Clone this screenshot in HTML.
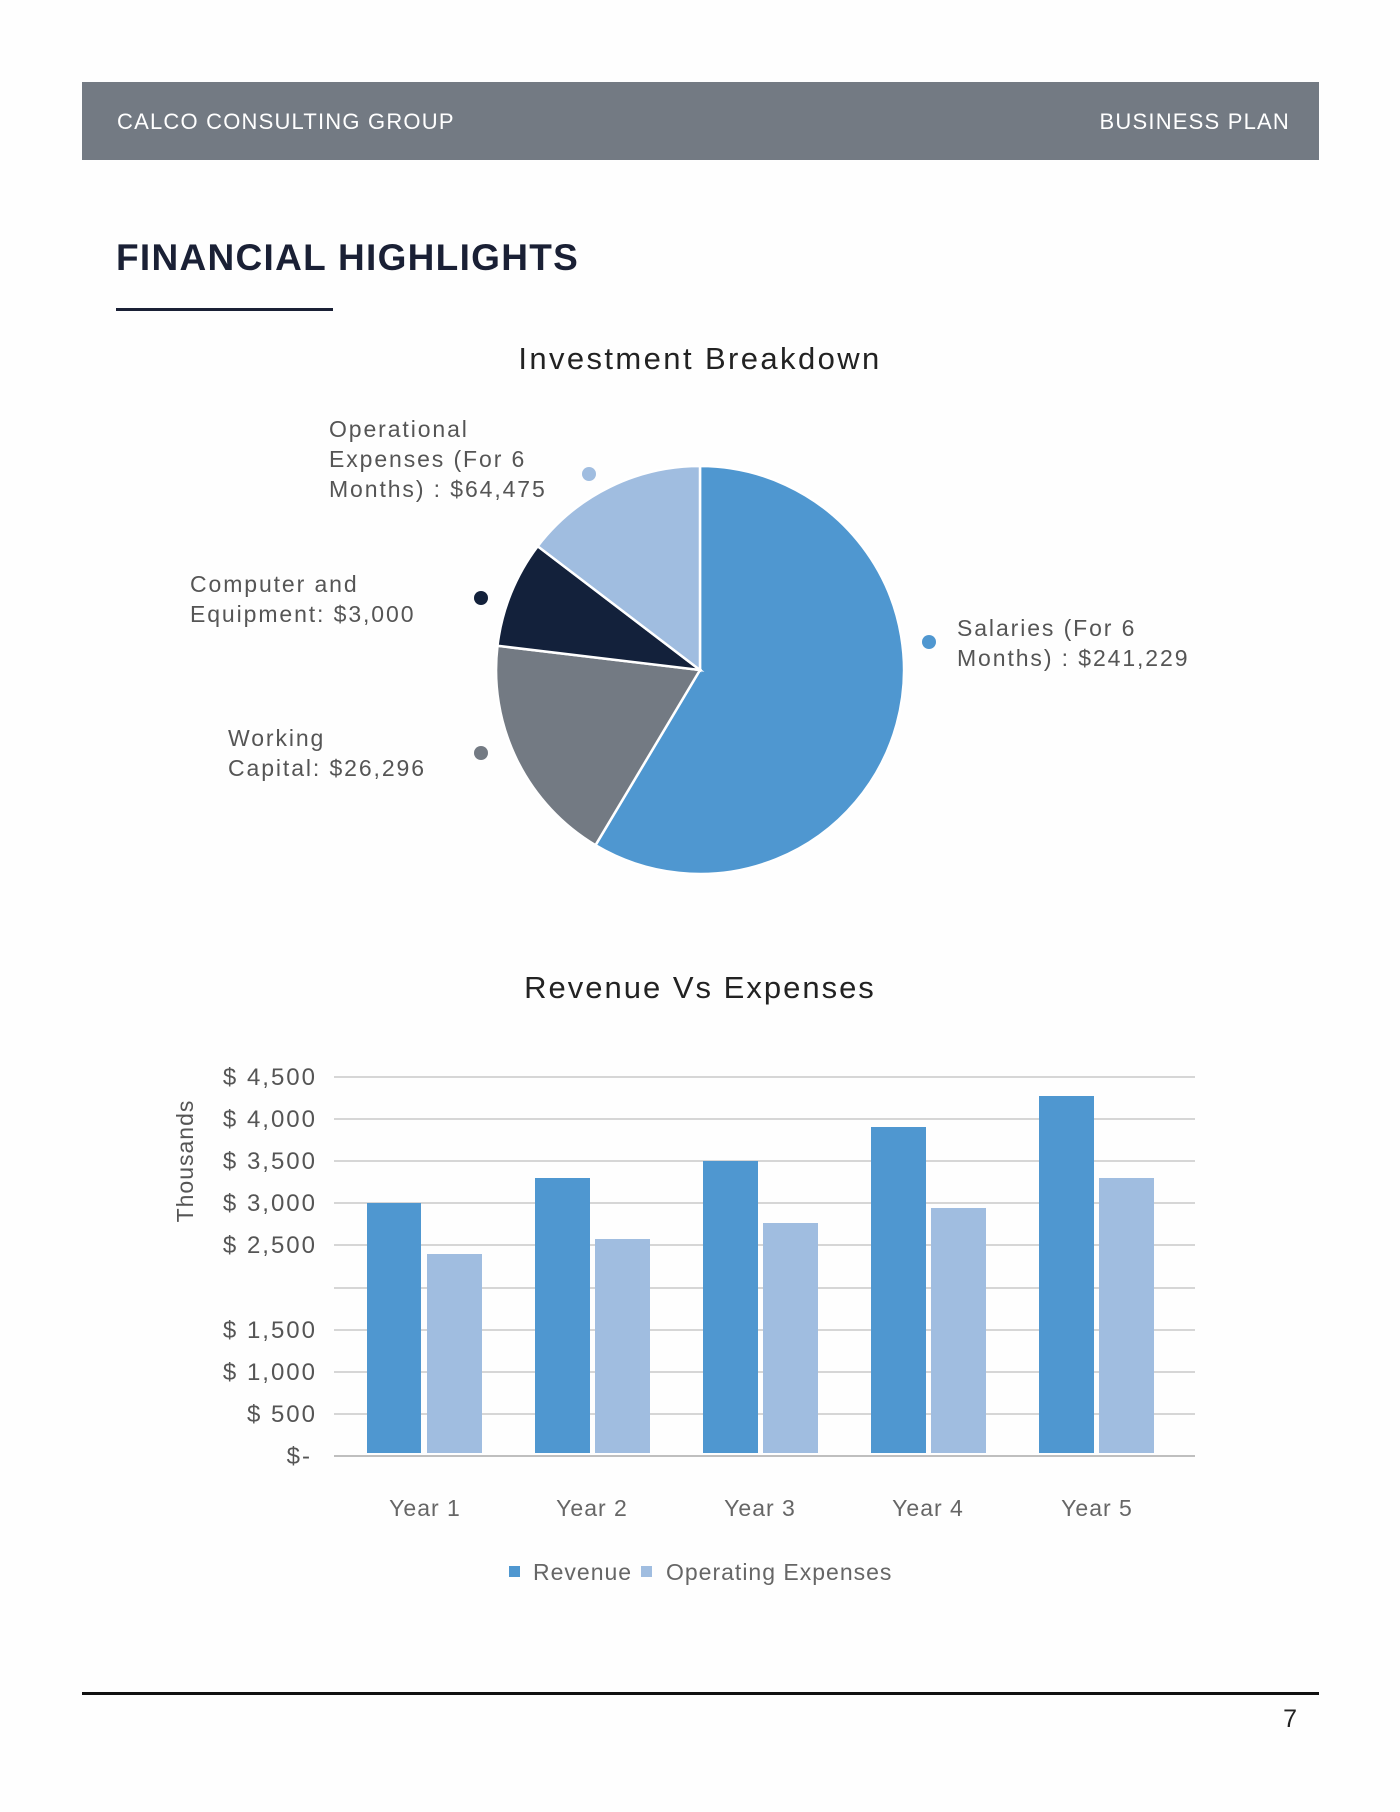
<!DOCTYPE html>
<html><head><meta charset="utf-8"><style>
html,body{margin:0;padding:0;background:#fff;}
svg{display:block;font-family:"Liberation Sans",sans-serif;}
</style></head><body>
<svg width="1400" height="1812" viewBox="0 0 1400 1812">
<rect width="1400" height="1812" fill="#fefefe"/>
<rect x="82" y="82" width="1237" height="78" fill="#737a83"/>
<text x="117" y="129" font-size="22" fill="#fff" letter-spacing="1.2">CALCO CONSULTING GROUP</text>
<text x="1290" y="129" font-size="22" fill="#fff" text-anchor="end" letter-spacing="1.2">BUSINESS  PLAN</text>
<text x="116" y="270" font-size="37" font-weight="bold" fill="#1a2035" letter-spacing="1.3">FINANCIAL HIGHLIGHTS</text>
<rect x="116" y="308" width="217" height="3" fill="#1a2035"/>
<text x="700" y="369" font-size="31" fill="#222" text-anchor="middle" letter-spacing="2.4">Investment Breakdown</text>
<g stroke="#fff" stroke-width="2.5">
<path d="M700 670 L700 466 A204 204 0 1 1 595.5 845.2 Z" fill="#4f97d0"/>
<path d="M700 670 L595.5 845.2 A204 204 0 0 1 497.5 645.8 Z" fill="#737a83"/>
<path d="M700 670 L497.5 645.8 A204 204 0 0 1 537.7 546.2 Z" fill="#13213b"/>
<path d="M700 670 L537.7 546.2 A204 204 0 0 1 700 466 Z" fill="#a0bde0"/>
</g>
<g font-size="23" fill="#555" letter-spacing="1.9">
<text x="329" y="437">Operational</text>
<text x="329" y="467">Expenses (For 6</text>
<text x="329" y="497">Months) : $64,475</text>
<text x="190" y="592">Computer and</text>
<text x="190" y="622">Equipment: $3,000</text>
<text x="228" y="746">Working</text>
<text x="228" y="776">Capital: $26,296</text>
<text x="957" y="636">Salaries (For  6</text>
<text x="957" y="666">Months) : $241,229</text>
</g>
<circle cx="589" cy="474" r="7" fill="#a0bde0"/>
<circle cx="481" cy="598" r="7" fill="#13213b"/>
<circle cx="481" cy="753" r="7" fill="#737a83"/>
<circle cx="929" cy="642" r="7" fill="#4f97d0"/>
<text x="700" y="998" font-size="31" fill="#222" text-anchor="middle" letter-spacing="2">Revenue Vs Expenses</text>
<g stroke="#c8c8c8" stroke-width="1.5">
<line x1="334" x2="1195" y1="1077" y2="1077"/>
<line x1="334" x2="1195" y1="1119" y2="1119"/>
<line x1="334" x2="1195" y1="1161" y2="1161"/>
<line x1="334" x2="1195" y1="1203" y2="1203"/>
<line x1="334" x2="1195" y1="1245" y2="1245"/>
<line x1="334" x2="1195" y1="1288" y2="1288"/>
<line x1="334" x2="1195" y1="1330" y2="1330"/>
<line x1="334" x2="1195" y1="1372" y2="1372"/>
<line x1="334" x2="1195" y1="1414" y2="1414"/>
<line x1="334" x2="1195" y1="1456" y2="1456" stroke="#aaa"/>
</g>
<g font-size="24" fill="#555" text-anchor="end" letter-spacing="2">
<text x="317" y="1085">$ 4,500</text>
<text x="317" y="1127">$ 4,000</text>
<text x="317" y="1169">$ 3,500</text>
<text x="317" y="1211">$ 3,000</text>
<text x="317" y="1253">$ 2,500</text>
<text x="317" y="1338">$ 1,500</text>
<text x="317" y="1380">$ 1,000</text>
<text x="317" y="1422">$ 500</text>
<text x="312" y="1464">$-</text>
</g>
<text transform="translate(193,1161) rotate(-90)" font-size="23" fill="#555" text-anchor="middle" letter-spacing="1">Thousands</text>
<g fill="#4f97d0">
<rect x="367" y="1203" width="54" height="250"/>
<rect x="535" y="1178" width="55" height="275"/>
<rect x="703" y="1161" width="55" height="292"/>
<rect x="871" y="1127" width="55" height="326"/>
<rect x="1039" y="1096" width="55" height="357"/>
</g>
<g fill="#a0bde0">
<rect x="427" y="1254" width="55" height="199"/>
<rect x="595" y="1239" width="55" height="214"/>
<rect x="763" y="1223" width="55" height="230"/>
<rect x="931" y="1208" width="55" height="245"/>
<rect x="1099" y="1178" width="55" height="275"/>
</g>
<g font-size="23" fill="#666" text-anchor="middle" letter-spacing="1">
<text x="425" y="1516">Year 1</text>
<text x="592" y="1516">Year 2</text>
<text x="760" y="1516">Year 3</text>
<text x="928" y="1516">Year 4</text>
<text x="1097" y="1516">Year 5</text>
</g>
<rect x="509" y="1566" width="11" height="11" fill="#4f97d0"/>
<text x="533" y="1580" font-size="23" fill="#666" letter-spacing="1">Revenue</text>
<rect x="641" y="1566" width="11" height="11" fill="#a0bde0"/>
<text x="666" y="1580" font-size="23" fill="#666" letter-spacing="1">Operating Expenses</text>
<rect x="82" y="1692" width="1237" height="3" fill="#111"/>
<text x="1297" y="1727" font-size="25" fill="#222" text-anchor="end">7</text>
</svg>
</body></html>
